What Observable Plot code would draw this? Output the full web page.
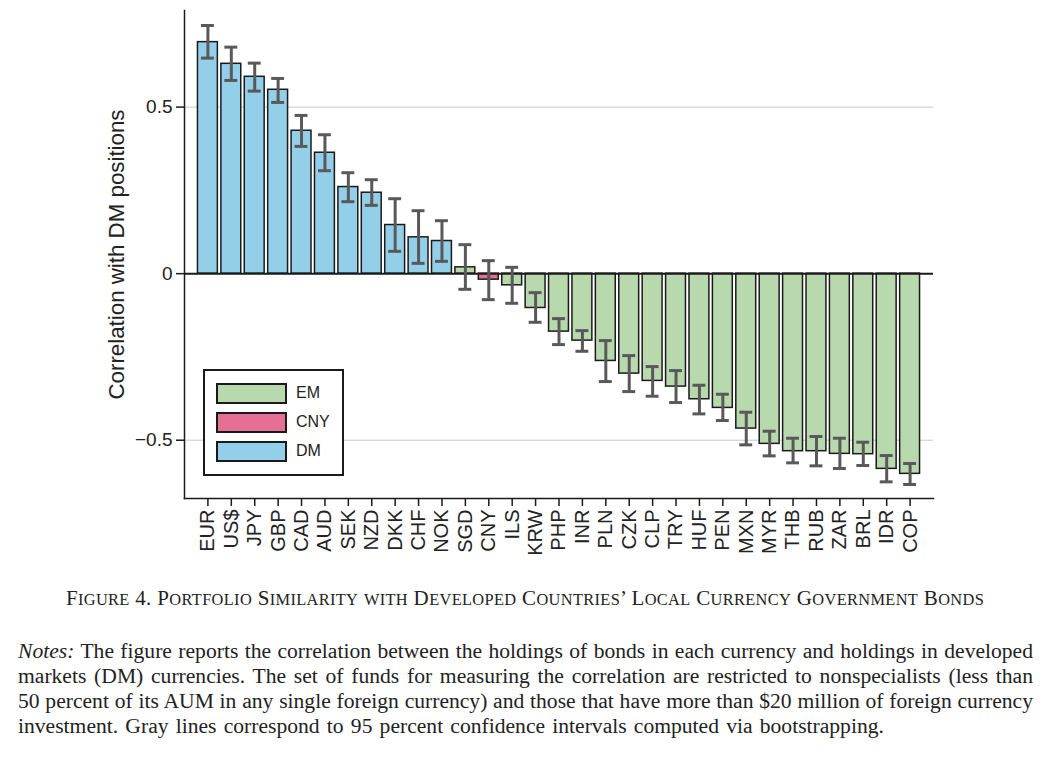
<!DOCTYPE html>
<html>
<head>
<meta charset="utf-8">
<script src="https://cdn.jsdelivr.net/npm/d3@7"></script>
<script src="https://cdn.jsdelivr.net/npm/@observablehq/plot@0.6"></script>
<style>
  html, body { margin: 0; padding: 0; background: #fff; }
  #wrap { position: relative; width: 1050px; }
  #legend {
    position: absolute; left: 203px; top: 369px; width: 137px; height: 103px;
    border: 2px solid #1a1a1a; background: #fff;
    font-family: "Liberation Sans", Arial, sans-serif; font-size: 16px; color: #222;
  }
  .item { position: absolute; left: 11px; height: 20px; display: flex; align-items: center; }
  .sw { width: 67px; height: 17px; border: 2px solid #1a1a1a; margin-right: 9px; }
  #caption {
    font-family: "Liberation Serif", "Times New Roman", serif; font-size: 21px;
    text-align: center; line-height: 24px; color: #222; letter-spacing: 0.35px;
    margin-top: 26px; white-space: nowrap;
  }
  #caption .sc { font-size: 0.78em; text-transform: uppercase; }
  #notes {
    font-family: "Liberation Serif", "Times New Roman", serif; font-size: 21.6px;
    line-height: 25px; color: #222; width: 1015px; margin-left: 18px;
    margin-top: 27px;
  }
  #notes .ln { white-space: nowrap; text-align: justify; text-align-last: justify; }
  #notes .ln.last { text-align: left; text-align-last: left; word-spacing: 1.8px; }
</style>
</head>
<body>
<div id="wrap">
  <div id="chart"></div>
  <div id="legend"></div>
  <div id="caption"></div>
  <div id="notes">
    <div class="ln"><i>Notes:</i> The figure reports the correlation between the holdings of bonds in each currency and holdings in developed</div>
    <div class="ln">markets (DM) currencies. The set of funds for measuring the correlation are restricted to nonspecialists (less than</div>
    <div class="ln">50 percent of its AUM in any single foreign currency) and those that have more than $20 million of foreign currency</div>
    <div class="ln last">investment. Gray lines correspond to 95 percent confidence intervals computed via bootstrapping.</div>
  </div>
</div>
<script>
const currencies = ["EUR","US$","JPY","GBP","CAD","AUD","SEK","NZD","DKK","CHF","NOK","SGD","CNY","ILS","KRW","PHP","INR","PLN","CZK","CLP","TRY","HUF","PEN","MXN","MYR","THB","RUB","ZAR","BRL","IDR","COP"];
const values = [0.695,0.630,0.591,0.552,0.429,0.363,0.260,0.243,0.146,0.109,0.098,0.019,-0.018,-0.035,-0.103,-0.174,-0.201,-0.262,-0.300,-0.322,-0.339,-0.377,-0.403,-0.465,-0.511,-0.533,-0.533,-0.541,-0.542,-0.586,-0.601];
const lower = [0.647,0.580,0.548,0.514,0.382,0.309,0.216,0.205,0.067,0.031,0.037,-0.047,-0.078,-0.089,-0.146,-0.213,-0.233,-0.324,-0.354,-0.368,-0.387,-0.421,-0.441,-0.514,-0.547,-0.568,-0.577,-0.585,-0.576,-0.625,-0.633];
const upper = [0.745,0.680,0.632,0.586,0.475,0.417,0.303,0.282,0.225,0.189,0.159,0.087,0.039,0.019,-0.057,-0.135,-0.171,-0.201,-0.246,-0.279,-0.291,-0.335,-0.362,-0.416,-0.473,-0.494,-0.489,-0.494,-0.506,-0.546,-0.570];
const groups = ["DM","DM","DM","DM","DM","DM","DM","DM","DM","DM","DM","EM","CNY","EM","EM","EM","EM","EM","EM","EM","EM","EM","EM","EM","EM","EM","EM","EM","EM","EM","EM"];
const legendGroups = ["EM","CNY","DM"];
const groupColors = ["#b8d9ad","#e57096","#93cfe8"];
const yTicks = [-0.5, 0, 0.5];
const yLabel = "Correlation with DM positions";
const captionText = "Figure 4. Portfolio Similarity with Developed Countries’ Local Currency Government Bonds";

const data = currencies.map((c, i) => ({currency: c, value: values[i], lo: lower[i], hi: upper[i], group: groups[i]}));
const fmt = d => d === 0 ? "0" : (d < 0 ? "\u2212" + Math.abs(d) : String(d));

const chart = Plot.plot({
  width: 1050,
  height: 560,
  marginLeft: 184,
  marginRight: 117,
  marginTop: 10,
  marginBottom: 62,
  style: {fontFamily: "Liberation Sans, Arial, sans-serif", fontSize: "19px", color: "#222", background: "#fff"},
  x: {domain: currencies, paddingInner: 0.15, paddingOuter: 0.575, round: false},
  y: {domain: [-0.675, 0.79]},
  color: {domain: legendGroups, range: groupColors},
  marks: [
    Plot.ruleY([-0.5, 0.5], {stroke: "#c8c8c8", strokeWidth: 1}),
    Plot.barY(data, {x: "currency", y: "value", fill: "group", stroke: "#1a1a1a", strokeWidth: 1.5}),
    Plot.ruleY([0], {stroke: "#1a1a1a", strokeWidth: 2}),
    Plot.ruleX(data, {x: "currency", y1: "lo", y2: "hi", stroke: "#595959", strokeWidth: 3}),
    Plot.tickY(data, {x: "currency", y: "lo", stroke: "#595959", strokeWidth: 3, insetLeft: 3.5, insetRight: 3.5}),
    Plot.tickY(data, {x: "currency", y: "hi", stroke: "#595959", strokeWidth: 3, insetLeft: 3.5, insetRight: 3.5}),
    Plot.frame({anchor: "left", stroke: "#1a1a1a", strokeWidth: 1.5}),
    Plot.frame({anchor: "bottom", stroke: "#1a1a1a", strokeWidth: 1.5}),
    Plot.axisY({ticks: yTicks, tickFormat: fmt, tickSize: 8, tickPadding: 4, label: null, stroke: "#1a1a1a", strokeWidth: 1.5}),
    Plot.axisX({tickRotate: -90, tickSize: 8, tickPadding: 3, label: null, fontSize: 20, stroke: "#1a1a1a", strokeWidth: 1.5}),
    Plot.text([yLabel], {frameAnchor: "left", textAnchor: "middle", rotate: -90, dx: -68, fontSize: 22.3, fill: "#222"})
  ]
});
document.getElementById("chart").appendChild(chart);

const legend = document.getElementById("legend");
legendGroups.forEach((g, i) => {
  const item = document.createElement("div");
  item.className = "item";
  item.style.top = (12 + i * 29) + "px";
  const sw = document.createElement("div");
  sw.className = "sw";
  sw.style.background = groupColors[i];
  const lab = document.createElement("span");
  lab.textContent = g;
  item.appendChild(sw);
  item.appendChild(lab);
  legend.appendChild(item);
});

// small caps caption: lowercase runs are rendered smaller and uppercased
const cap = document.getElementById("caption");
captionText.split(/([a-z]+)/).forEach(part => {
  if (!part) return;
  if (/^[a-z]+$/.test(part)) {
    const s = document.createElement("span");
    s.className = "sc";
    s.textContent = part;
    cap.appendChild(s);
  } else {
    cap.appendChild(document.createTextNode(part));
  }
});
</script>
</body>
</html>
